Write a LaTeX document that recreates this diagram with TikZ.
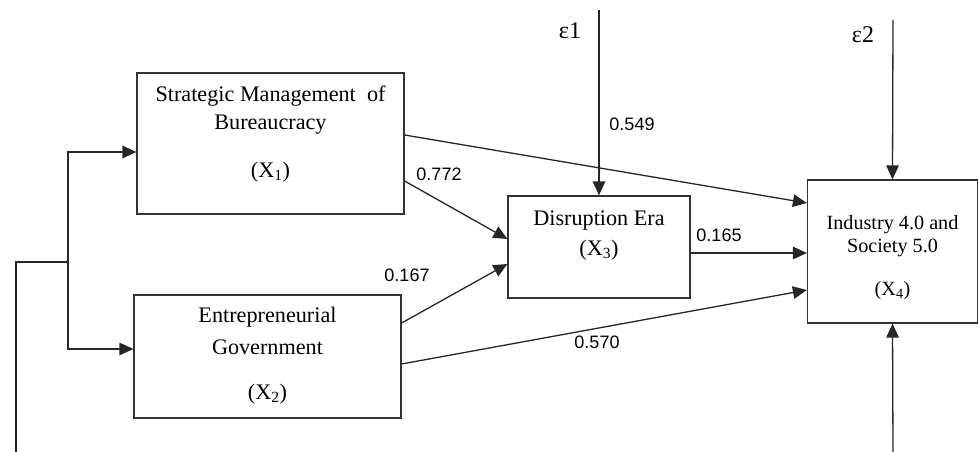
\documentclass[tikz,border=0pt]{standalone}
\usepackage{fontspec}
\setmainfont{Liberation Serif}
\newfontfamily\lsans{Liberation Sans}
\usetikzlibrary{arrows.meta}
\tikzset{
  box/.style={draw=black!80, line width=1.2pt, minimum width=#1, inner sep=0pt},
  boxtext/.style={font=\fontsize{22.2}{26}\selectfont, inner sep=0pt, anchor=center},
  smalltext/.style={font=\fontsize{20.2}{24}\selectfont, inner sep=0pt, anchor=center},
  coef/.style={font=\lsans\fontsize{18}{21}\selectfont, inner sep=0pt, anchor=center},
  eps/.style={font=\fontsize{24}{27}\selectfont, inner sep=0pt, anchor=center},
  conn/.style={line width=1.3pt, draw=black!85},
  arr/.style={conn, -{Triangle[length=14pt,width=12.5pt]}}
}
\begin{document}
\begin{tikzpicture}[x=1pt,y=-1pt]
\useasboundingbox (0,0) rectangle (978,452);
% boxes
\node[box=267pt, minimum height=141pt] (x1) at (270.5,143.5) {};
\node[box=267pt, minimum height=123pt] (x2) at (267.5,356.5) {};
\node[box=182pt, minimum height=102pt] (x3) at (599,247) {};
\node[box=170pt, minimum height=143pt] (x4) at (892.5,251.5) {};
% box texts
\node[boxtext] (t1a) at (270.5,96) {Strategic Management\ \ of};
\node[boxtext] (t1b) at (270.5,125) {Bureaucracy};
\node[boxtext] (t1c) at (270.5,172) {(X\textsubscript{1})};
\node[boxtext] (t2a) at (267.5,317) {Entrepreneurial};
\node[boxtext] (t2b) at (267.5,347) {Government};
\node[boxtext] (t2c) at (267.5,394) {(X\textsubscript{2})};
\node[boxtext] (t3a) at (599,221) {Disruption Era};
\node[boxtext] (t3b) at (599,250) {(X\textsubscript{3})};
\node[smalltext] (t4a) at (892.5,225) {Industry 4.0 and};
\node[smalltext] (t4b) at (892.5,248) {Society 5.0};
\node[smalltext] (t4c) at (892.5,291) {(X\textsubscript{4})};
% error terms
\node[eps] (e1) at (570,31) {ε1};
\node[eps] (e2) at (863,35) {ε2};
\coordinate (e1top) at (599,10);
\coordinate (e2top) at (893,20);
\coordinate (bot) at (893,452);
% left tree
\coordinate (l0) at (16,452);
\coordinate (l1) at (16,262);
\coordinate (l2) at (68,262);
\draw[conn] (l0) -- (l1) -- (l2);
\draw[arr] (l2) |- ([yshift=-8.5pt]x1.west);
\draw[arr] (l2) |- ([yshift=7.5pt]x2.west);
% paths
\draw[arr] ([yshift=8.5pt]x1.east) -- ([yshift=48.5pt]x4.west);
\draw[arr] ([yshift=-37.5pt]x1.east) -- ([yshift=8pt]x3.west);
\draw[arr] ([yshift=33.5pt]x2.east) -- ([yshift=-17pt]x3.west);
\draw[arr] ([yshift=-7.5pt]x2.east) -- ([yshift=-38.5pt]x4.west);
\draw[arr] ([yshift=-6pt]x3.east) -- ([yshift=-6pt]x3.east -| x4.west);
\draw[arr] (e1top) -- (x3.north);
\draw[arr] (e2top) -- (x4.north);
\draw[arr] (bot) -- (x4.south);
% coefficients
\node[coef] (c772) at (439,174) {0.772};
\node[coef] (c167) at (407,275) {0.167};
\node[coef] (c549) at (632,124) {0.549};
\node[coef] (c165) at (719,235) {0.165};
\node[coef] (c570) at (597,342) {0.570};
\end{tikzpicture}
\end{document}
